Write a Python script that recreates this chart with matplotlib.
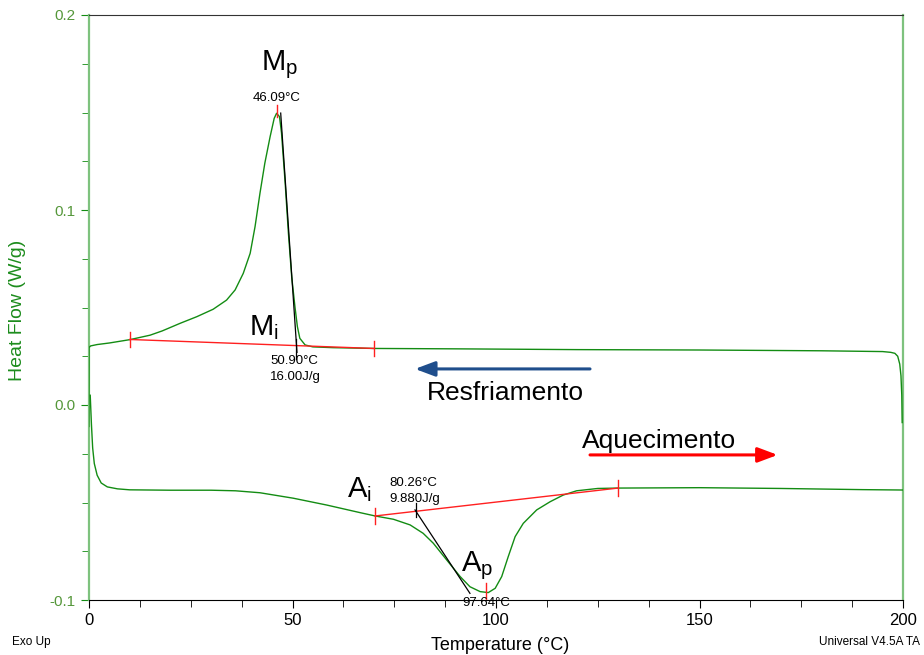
import matplotlib
matplotlib.use("Agg")
import matplotlib.pyplot as plt
from matplotlib.ticker import MultipleLocator

plt.rcParams['font.family'] = ['Liberation Sans', 'DejaVu Sans']
plt.rcParams['mathtext.default'] = 'regular'

# Cooling curve (Resfriamento)
cool_x = [-0.05, 0.0, 0.4, 2, 5, 10, 15, 18, 22.4, 26.5, 30.5, 33.8, 35.9, 37.9, 39.6,
          40.8, 42.0, 43.2, 44.5, 45.5, 46.09, 46.8, 47.3, 48.2, 49.0, 49.8, 50.6,
          51.2, 51.8, 53.1, 55, 60, 70, 90, 120, 150, 180, 195, 197, 198, 198.7,
          199.2, 199.5, 199.7, 199.8]
cool_y = [-0.011, 0.0295, 0.0303, 0.031, 0.0318, 0.0335, 0.0358, 0.0380, 0.0419,
          0.0453, 0.0491, 0.0538, 0.059, 0.0675, 0.0778, 0.0915, 0.1085, 0.124, 0.1376,
          0.147, 0.1496, 0.1479, 0.1395, 0.1138, 0.088, 0.0658, 0.0504, 0.0402, 0.0342,
          0.0308, 0.0298, 0.0294, 0.029, 0.0288, 0.0284, 0.0282, 0.0278, 0.0274, 0.027,
          0.0265, 0.025, 0.021, 0.015, 0.005, -0.009]

# Heating curve (Aquecimento)
heat_x = [0.3, 0.6, 0.9, 1.3, 2, 3, 4.5, 7, 10, 20, 30, 36, 42.0, 50.2, 58.4, 66.6,
          70.3, 74.8, 78.9, 82.1, 84.6, 87.9, 91.2, 93.6, 96.1, 98.1, 99.8, 101.4,
          103.0, 104.7, 106.7, 110.0, 113.3, 116.5, 119.8, 125, 130, 150, 170, 190, 200]
heat_y = [0.005, -0.010, -0.022, -0.030, -0.036, -0.040, -0.042, -0.043, -0.0435,
          -0.0437, -0.0437, -0.0440, -0.0450, -0.0478, -0.0513, -0.0552, -0.0569,
          -0.0586, -0.0615, -0.0658, -0.0709, -0.0795, -0.0880, -0.0932, -0.0957,
          -0.0962, -0.0940, -0.0880, -0.0778, -0.0675, -0.0607, -0.0538, -0.0496,
          -0.0462, -0.0440, -0.0428, -0.0426, -0.0424, -0.0428, -0.0434, -0.0436]

# Analysis lines
cool_base_x = [10, 70]
cool_base_y = [0.0336, 0.029]
heat_base_x = [70.3, 130]
heat_base_y = [-0.0569, -0.0426]
cool_tan_x = [47.1, 51.1]
cool_tan_y = [0.1497, 0.027]
heat_tan_x = [80.1, 93.6]
heat_tan_y = [-0.0538, -0.0966]

x_ticks = [0, 50, 100, 150, 200]
y_ticks = [-0.1, 0.0, 0.1, 0.2]
y_tick_labels = ['-0.1', '0.0', '0.1', '0.2']

GREEN = '#138c13'
SPINE_GREEN = '#7ec27e'
RED = '#ff2020'

fig = plt.figure(figsize=(9.24, 6.55), dpi=100)
ax = fig.add_axes([89/924, 1-600/655, (903-89)/924, (600-15)/655])

ax.plot(cool_x, cool_y, color=GREEN, lw=1.0, zorder=3)
ax.plot(heat_x, heat_y, color=GREEN, lw=1.0, zorder=3)

# baselines and ticks
ax.plot(cool_base_x, cool_base_y, color=RED, lw=1.0, zorder=4)
ax.plot(heat_base_x, heat_base_y, color=RED, lw=1.0, zorder=4)
for xx, yy in zip(cool_base_x + heat_base_x, cool_base_y + heat_base_y):
    ax.plot([xx, xx], [yy - 0.004, yy + 0.004], color=RED, lw=1.0, zorder=4)
ax.plot([46.09, 46.09], [0.1477, 0.1538], color=RED, lw=1.0, zorder=4)
ax.plot([97.64, 97.64], [-0.0913, -0.0999], color=RED, lw=1.0, zorder=4)

# tangents
ax.plot(cool_tan_x, cool_tan_y, color='black', lw=0.9, zorder=5)
ax.plot(heat_tan_x, heat_tan_y, color='black', lw=0.9, zorder=5)
ax.plot([50.9, 50.9], [0.0235, 0.034], color='black', lw=0.9, zorder=5)
ax.plot([80.26, 80.26], [-0.0503, -0.0574], color='black', lw=0.9, zorder=5)

# annotations
big = 21
ax.text(46.9, 0.1744, 'M$_{p}$', fontsize=big, ha='center', va='center')
ax.text(46.09, 0.1574, '46.09°C', fontsize=9.5, ha='center', va='center')
ax.text(39.4, 0.0395, 'M$_{i}$', fontsize=big, ha='left', va='center')
ax.text(44.5, 0.0226, '50.90°C', fontsize=9.5, ha='left', va='center')
ax.text(44.5, 0.0144, '16.00J/g', fontsize=9.5, ha='left', va='center')
ax.text(63.3, -0.0436, 'A$_{i}$', fontsize=big, ha='left', va='center')
ax.text(73.7, -0.0400, '80.26°C', fontsize=9.5, ha='left', va='center')
ax.text(73.7, -0.0482, '9.880J/g', fontsize=9.5, ha='left', va='center')
ax.text(91.5, -0.0826, 'A$_{p}$', fontsize=big, ha='left', va='center')
ax.text(97.64, -0.1015, '97.64°C', fontsize=9.5, ha='center', va='center', clip_on=False, zorder=6)

# arrows
ax.annotate('', xy=(80.1, 0.0185), xytext=(123.1, 0.0185),
            arrowprops=dict(arrowstyle='-|>,head_length=1.2,head_width=0.45',
                            color='#1f4e8c', lw=2.2, shrinkA=0, shrinkB=0))
ax.text(83.0, 0.0062, 'Resfriamento', fontsize=19, ha='left', va='center')
ax.annotate('', xy=(169.2, -0.0256), xytext=(123.1, -0.0256),
            arrowprops=dict(arrowstyle='-|>,head_length=1.2,head_width=0.45',
                            color='#ff0000', lw=2.2, shrinkA=0, shrinkB=0))
ax.text(121.1, -0.0185, 'Aquecimento', fontsize=19, ha='left', va='center', zorder=1)

ax.set_xlim(0, 200)
ax.set_ylim(-0.1, 0.2)
ax.set_xticks(x_ticks)
ax.set_yticks(y_ticks)
ax.set_yticklabels(y_tick_labels)
ax.xaxis.set_minor_locator(MultipleLocator(12.5))
ax.yaxis.set_minor_locator(MultipleLocator(0.025))

ax.spines['left'].set_color(SPINE_GREEN)
ax.spines['right'].set_color(SPINE_GREEN)
ax.spines['left'].set_linewidth(1.6)
ax.spines['right'].set_linewidth(1.6)
ax.spines['top'].set_color('#333333')
ax.spines['bottom'].set_color('black')

ax.tick_params(axis='y', which='both', direction='out', colors=GREEN, labelcolor='#55973a',
               labelsize=11)
ax.tick_params(axis='y', which='major', length=6)
ax.tick_params(axis='y', which='minor', length=5)
ax.tick_params(axis='x', which='both', direction='out', colors='black', labelsize=12)
ax.tick_params(axis='x', which='major', length=6)
ax.tick_params(axis='x', which='minor', length=5)

fig.text(500/924, 1-645/655, 'Temperature (°C)', fontsize=13, ha='center', va='center')
fig.text(12/924, 1-642/655, 'Exo Up', fontsize=8.5, ha='left', va='center')
fig.text(920/924, 1-642/655, 'Universal V4.5A TA', fontsize=8.5, ha='right', va='center')
fig.text(18/924, 1-310/655, 'Heat Flow (W/g)', fontsize=14, ha='center', va='center',
         rotation=90, color='#1c8c1c')

fig.savefig('out.png', dpi=100)
